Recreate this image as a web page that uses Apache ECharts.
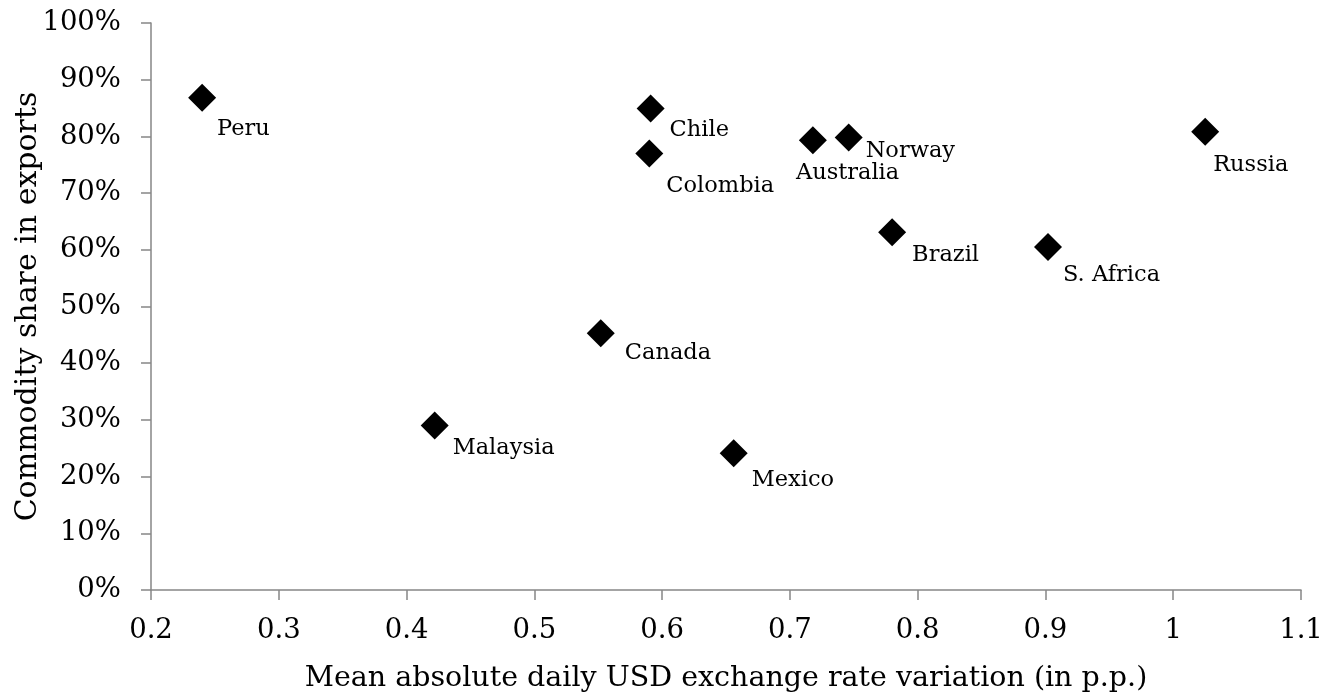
<!DOCTYPE html>
<html>
<head>
<meta charset="utf-8">
<script src="https://cdn.jsdelivr.net/npm/echarts@6/dist/echarts.min.js"></script>
<style>html,body{margin:0;padding:0;background:#fff}#c{width:1336px;height:698px}</style>
</head>
<body>
<div id="c"></div>
<script>
const countries = ['Peru','Chile','Colombia','Australia','Norway','Brazil','Russia','S. Africa','Canada','Malaysia','Mexico'];
const fxVariation = [0.240, 0.591, 0.590, 0.718, 0.746, 0.780, 1.025, 0.902, 0.552, 0.422, 0.656];
const commodityShare = [0.868, 0.849, 0.770, 0.793, 0.798, 0.631, 0.808, 0.605, 0.453, 0.290, 0.241];
const xTitle = 'Mean absolute daily USD exchange rate variation (in p.p.)';
const yTitle = 'Commodity share in exports';

// label placement relative to marker centre (style only)
const labelOffsets = {
  'Peru':[15,31], 'Chile':[19,22], 'Colombia':[17,33], 'Australia':[-17,33], 'Norway':[17,14],
  'Brazil':[20,23], 'Russia':[8,33], 'S. Africa':[15,28], 'Canada':[24,20], 'Malaysia':[18,23], 'Mexico':[18,27]
};

const FONT = 'DejaVu Serif';
const data = countries.map((n,i)=>({
  name:n,
  value:[fxVariation[i], commodityShare[i]],
  label:{offset:labelOffsets[n]}
}));

const chart = echarts.init(document.getElementById('c'));
chart.setOption({
  animation:false,
  backgroundColor:'#fff',
  grid:{left:151, right:35, top:23, bottom:108, containLabel:false, outerBoundsMode:'none'},
  xAxis:{
    type:'value', min:0.2, max:1.1, interval:0.1,
    name:xTitle, nameLocation:'middle', nameGap:74, nameMoveOverlap:false,
    nameTextStyle:{fontFamily:FONT, fontSize:28.5, color:'#000'},
    axisLine:{show:true, onZero:false, lineStyle:{color:'#868686', width:1.5}},
    axisTick:{show:true, inside:false, length:10, lineStyle:{color:'#868686', width:1.5}},
    axisLabel:{fontFamily:FONT, fontSize:27.5, color:'#000', margin:27,
      formatter:v=>String(Math.round(v*10)/10)},
    splitLine:{show:false}
  },
  yAxis:{
    type:'value', min:0, max:1, interval:0.1,
    name:yTitle, nameLocation:'middle', nameGap:108, nameRotate:90, nameMoveOverlap:false,
    nameTextStyle:{fontFamily:FONT, fontSize:30, color:'#000'},
    axisLine:{show:true, onZero:false, lineStyle:{color:'#868686', width:1.5}},
    axisTick:{show:true, inside:false, length:10, lineStyle:{color:'#868686', width:1.5}},
    axisLabel:{fontFamily:FONT, fontSize:27.5, color:'#000', margin:30,
      formatter:v=>Math.round(v*100)+'%'},
    splitLine:{show:false}
  },
  series:[{
    type:'scatter',
    symbol:'diamond',
    symbolSize:28,
    itemStyle:{color:'#000', opacity:1},
    data:data,
    label:{show:true, position:'inside', formatter:'{b}',
      fontFamily:FONT, fontSize:22.5, color:'#000', align:'left', verticalAlign:'middle'}
  }]
});
</script>
</body>
</html>
